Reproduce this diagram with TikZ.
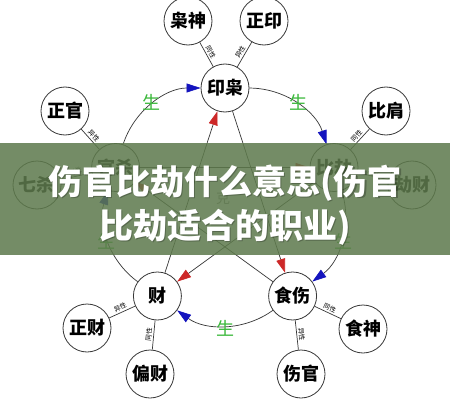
\documentclass[tikz,border=0pt]{standalone}
\usepackage{fontspec}
\newfontfamily\cjk{Noto Sans CJK SC}
\usetikzlibrary{arrows.meta}
\definecolor{lineg}{RGB}{55,55,55}
\definecolor{arrb}{RGB}{20,20,190}
\definecolor{arrr}{RGB}{205,40,40}
\definecolor{shg}{RGB}{60,185,60}
\definecolor{band}{RGB}{94,122,77}
\begin{document}
\begin{tikzpicture}[x=1pt,y=1pt,
  nd/.style={circle, draw=lineg, line width=0.8pt, fill=white, minimum size=48pt, inner sep=0pt, font=\cjk\bfseries\fontsize{18}{18}\selectfont},
  ln/.style={draw=lineg, line width=0.7pt},
  sheng/.style={text=shg, font=\cjk\fontsize{18}{18}\selectfont},
  lab/.style={font=\cjk\fontsize{6.5}{6.5}\selectfont, sloped, midway, inner sep=1.5pt},
  barr/.style={-{Triangle[length=14pt,width=9pt,color=arrb]}},
  rarr/.style={-{Triangle[length=14pt,width=9pt,color=arrr]}},
  title/.style={text=white, font=\cjk\bfseries\fontsize{34}{34}\selectfont, inner sep=0pt}
]
\useasboundingbox[fill=white] (0,0) rectangle (450,400);
% pentagon nodes
\node[nd] (yx) at (225,312) {印枭};
\node[nd] (bj) at (334,232.5) {比劫};
\node[nd] (ss) at (292.6,104) {食伤};
\node[nd] (cai) at (157.4,104) {财};
\node[nd] (gs) at (115.6,232.5) {官杀};
% outer nodes
\node[nd] (xs) at (188,379) {枭神};
\node[nd] (zy) at (264,379) {正印};
\node[nd] (zg) at (65,289) {正官};
\node[nd] (bjian) at (386,289) {比肩};
\node[nd] (qs) at (37,215) {七杀};
\node[nd] (jc) at (412,215) {劫财};
\node[nd] (zc) at (87,72) {正财};
\node[nd] (sshen) at (363,71) {食神};
\node[nd] (pc) at (150,26) {偏财};
\node[nd] (sg) at (301,26) {伤官};
% centre mark
\node[text=black!45, font=\cjk\fontsize{14}{14}\selectfont] (ke) at (223,202) {克};
% generating circle
\draw[ln, barr] (gs) to[bend left=36, looseness=0.94] (yx);
\draw[ln, barr] (yx) to[bend left=36, looseness=0.94] (bj);
\draw[ln, barr] (bj) to[bend left=36, looseness=0.94] (ss);
\draw[ln, barr] (ss) to[bend left=36, looseness=0.94] (cai);
\draw[ln, barr] (cai) to[bend left=36, looseness=0.94] (gs);
% controlling star
\draw[ln, rarr] (cai) -- (yx);
\draw[ln, rarr] (yx) -- (ss);
\draw[ln, rarr] (ss) -- (gs);
\draw[ln, rarr] (gs) -- (bj);
\draw[ln, rarr] (bj) -- (cai);
% sheng labels
\node[sheng] (s1) at ([shift={(225,197)}]-234:125) {生};
\node[sheng] (s2) at ([shift={(225,197)}]-306:125) {生};
\node[sheng] (s3) at ([shift={(225,197)}]-18:125) {生};
\node[sheng] (s4) at ([shift={(225,197)}]-90:125) {生};
\node[sheng] (s5) at ([shift={(225,197)}]-162:125) {生};
% spokes
\draw[ln] (xs) -- node[lab, above] {同性} (yx);
\draw[ln] (yx) -- node[lab, above] {异性} (zy);
\draw[ln] (zg) -- node[lab, above] {异性} (gs);
\draw[ln] (qs) -- node[lab, above] {同性} (gs);
\draw[ln] (bj) -- node[lab, above] {同性} (bjian);
\draw[ln] (bj) -- node[lab, above] {异性} (jc);
\draw[ln] (zc) -- node[lab, above] {异性} (cai);
\draw[ln] (cai) -- node[lab, above] {同性} (pc);
\draw[ln] (ss) -- node[lab, above] {同性} (sshen);
\draw[ln] (ss) -- node[lab, above] {异性} (sg);
% banner
\fill[band, opacity=0.86] (0,145) rectangle (450,257);
\node[title, text=black, opacity=0.25] at (226.5,215.5) {伤官比劫什么意思(伤官};
\node[title, text=black, opacity=0.25] at (226.5,171.5) {比劫适合的职业)};
\node[title] (t1) at (225,217) {伤官比劫什么意思(伤官};
\node[title] (t2) at (225,173) {比劫适合的职业)};
\end{tikzpicture}
\end{document}
